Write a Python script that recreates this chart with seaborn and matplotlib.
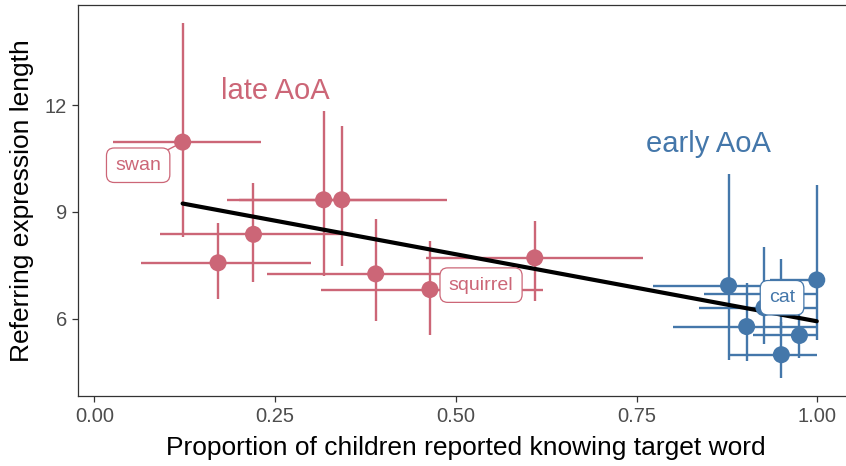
import numpy as np
import pandas as pd
import matplotlib
matplotlib.use("Agg")
import matplotlib.pyplot as plt
import seaborn as sns

# Late-acquired words: proportion knowing the word (with CI) and referring expression length (with CI)
late_words = ["swan", None, None, None, None, None, "squirrel", None]
late_prop = [0.122, 0.171, 0.220, 0.317, 0.342, 0.389, 0.464, 0.609]
late_prop_lo = [0.026, 0.065, 0.091, 0.184, 0.200, 0.238, 0.313, 0.459]
late_prop_hi = [0.231, 0.300, 0.357, 0.450, 0.487, 0.545, 0.620, 0.758]
late_len = [10.96, 7.57, 8.37, 9.34, 9.34, 7.26, 6.82, 7.71]
late_len_lo = [8.29, 6.56, 7.02, 7.19, 7.48, 5.93, 5.55, 6.49]
late_len_hi = [14.31, 8.70, 9.80, 11.82, 11.40, 8.79, 8.18, 8.74]

# Early-acquired words
early_words = [None, "cat", None, None, None, None, None]
early_prop = [0.877, 0.926, 0.950, 0.902, 0.950, 0.975, 0.999]
early_prop_lo = [0.773, 0.836, 0.843, 0.800, 0.876, 0.911, 0.935]
early_prop_hi = [0.981, 1.000, 1.000, 1.000, 1.000, 1.000, 1.000]
early_len = [6.93, 6.31, 6.70, 5.78, 4.99, 5.53, 7.09]
early_len_lo = [4.85, 5.28, 5.60, 4.80, 4.33, 4.89, 5.41]
early_len_hi = [10.06, 8.01, 7.69, 7.01, 5.90, 6.15, 9.75]

group_names = ["late AoA", "early AoA"]
x_ticks = [0.0, 0.25, 0.5, 0.75, 1.0]
x_ticklabels = ["0.00", "0.25", "0.50", "0.75", "1.00"]
y_ticks = [6, 9, 12]
y_ticklabels = ["6", "9", "12"]

palette = {"late AoA": "#CC6677", "early AoA": "#4477AA"}

df = pd.concat([
    pd.DataFrame({"word": late_words, "group": group_names[0],
                  "prop": late_prop, "prop_lo": late_prop_lo, "prop_hi": late_prop_hi,
                  "len": late_len, "len_lo": late_len_lo, "len_hi": late_len_hi}),
    pd.DataFrame({"word": early_words, "group": group_names[1],
                  "prop": early_prop, "prop_lo": early_prop_lo, "prop_hi": early_prop_hi,
                  "len": early_len, "len_lo": early_len_lo, "len_hi": early_len_hi}),
], ignore_index=True)

sns.set_theme(style="white")
plt.rcParams["font.family"] = ["Liberation Sans", "DejaVu Sans"]

W, H = 846, 466
fig = plt.figure(figsize=(W / 100, H / 100), dpi=100)
ax = fig.add_axes([78 / W, 70 / H, 774.7 / W, 391 / H])

# cross-shaped error bars for each word
for g, sub in df.groupby("group"):
    ax.errorbar(sub["prop"], sub["len"],
                xerr=[sub["prop"] - sub["prop_lo"], sub["prop_hi"] - sub["prop"]],
                yerr=[sub["len"] - sub["len_lo"], sub["len_hi"] - sub["len"]],
                fmt="none", ecolor=palette[g], elinewidth=1.7, capsize=0, zorder=2)

# linear fit across all words
sns.regplot(data=df, x="prop", y="len", scatter=False, ci=None, truncate=True,
            line_kws=dict(color="black", lw=3.0, zorder=3), ax=ax)

sns.scatterplot(data=df, x="prop", y="len", hue="group", palette=palette,
                s=150, edgecolor="none", linewidth=0, legend=False, zorder=4, ax=ax)

# axis limits with 5% padding around the error bar extents
xmin, xmax = df["prop_lo"].min(), df["prop_hi"].max()
ymin, ymax = df["len_lo"].min(), df["len_hi"].max()
xpad, ypad = 0.05 * (xmax - xmin), 0.05 * (ymax - ymin)
ax.set_xlim(xmin - xpad, xmax + xpad)
ax.set_ylim(ymin - ypad, ymax + ypad)

# word labels
label_pos = {"swan": (0.0605, 10.31), "squirrel": (0.5347, 6.944), "cat": (0.951, 6.59)}
for _, r in df.dropna(subset=["word"]).iterrows():
    c = palette[r["group"]]
    tx, ty = label_pos[r["word"]]
    ax.annotate(r["word"], xy=(r["prop"], r["len"]), xytext=(tx, ty),
                ha="center", va="center", fontsize=14, color=c, zorder=6,
                bbox=dict(boxstyle="round,pad=0.45,rounding_size=0.4",
                          fc="white", ec=c, lw=0.9),
                arrowprops=dict(arrowstyle="-", color=c, lw=1.0,
                                shrinkA=0, shrinkB=6) if r["word"] == "swan" else None)

# group annotations
ax.text(0.2505, 12.17, group_names[0], color=palette[group_names[0]],
        fontsize=21, ha="center", va="baseline", zorder=6)
ax.text(0.8496, 10.67, group_names[1], color=palette[group_names[1]],
        fontsize=21, ha="center", va="baseline", zorder=6)

ax.set_xticks(x_ticks, x_ticklabels)
ax.set_yticks(y_ticks, y_ticklabels)
ax.tick_params(axis="both", which="major", length=4, width=0.9, color="#333333",
               labelsize=14.5, labelcolor="#4D4D4D", pad=4, bottom=True, left=True)
for sp in ax.spines.values():
    sp.set_visible(True)
    sp.set_color("#333333")
    sp.set_linewidth(0.9)
ax.grid(False)

ax.set_xlabel("Proportion of children reported knowing target word", fontsize=19,
              color="black", labelpad=7)
ax.set_ylabel("Referring expression length", fontsize=19, color="black", labelpad=8)

fig.savefig("out.png", dpi=100)
